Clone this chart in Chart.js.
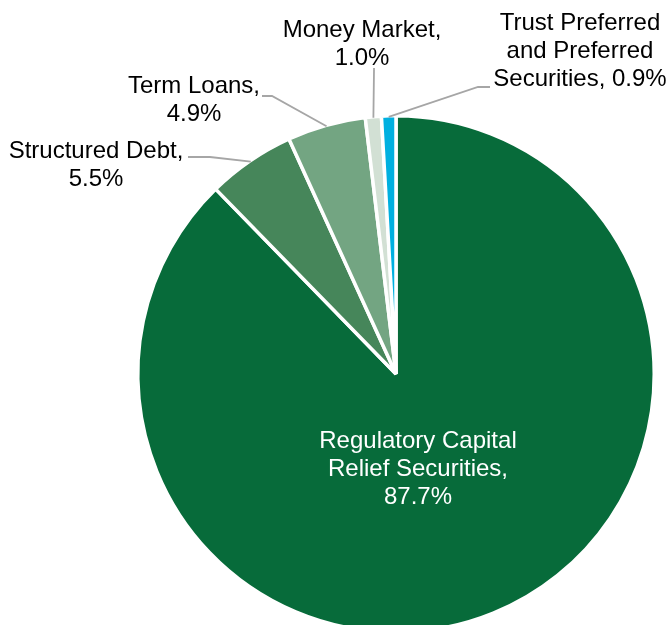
<!DOCTYPE html>
<html>
<head>
<meta charset="utf-8">
<script src="https://cdn.jsdelivr.net/npm/chart.js@4"></script>
<style>
  html, body { margin: 0; padding: 0; background: #fff; overflow: hidden; }
  #wrap { width: 669px; height: 625px; overflow: hidden; }
</style>
</head>
<body>
<div id="wrap"><canvas id="pie" width="669" height="640"></canvas></div>
<script>
// Portfolio mix (%), clockwise from 12 o'clock
const categories = [
  'Regulatory Capital Relief Securities',
  'Structured Debt',
  'Term Loans',
  'Money Market',
  'Trust Preferred and Preferred Securities'
];
const shares = [87.7, 5.5, 4.9, 1.0, 0.9];
const sliceColors = ['#076B3A', '#46865A', '#73A582', '#D2E0D4', '#00B0E0'];

// label text lines, by slice
const labelLines = [
  ['Regulatory Capital', 'Relief Securities,', '87.7%'],
  ['Structured Debt,', '5.5%'],
  ['Term Loans,', '4.9%'],
  ['Money Market,', '1.0%'],
  ['Trust Preferred', 'and Preferred', 'Securities, 0.9%']
];

// label placement: text centre x, first line y, and leader elbow (null = no leader)
const labelLayout = [
  { x: 418, y: 441, color: '#fff', leader: null },
  { x: 96,  y: 151, color: '#000', leader: [[188, 157], [210, 157]] },
  { x: 194, y: 86,  color: '#000', leader: [[262, 96], [272, 96]] },
  { x: 362, y: 30,  color: '#000', leader: [[374, 68], [374, 70]] },
  { x: 580, y: 23,  color: '#000', leader: [[490, 87], [478, 87]] }
];

const FONT = '24px "Liberation Sans", Arial, sans-serif';
const LINE_H = 28;

const calloutPlugin = {
  id: 'callouts',
  afterDatasetsDraw(chart) {
    const ctx = chart.ctx;
    const arcs = chart.getDatasetMeta(0).data;
    ctx.save();
    arcs.forEach((arc, i) => {
      const lay = labelLayout[i];
      if (lay.leader) {
        const { x, y, startAngle, endAngle, outerRadius } = arc.getProps(['x', 'y', 'startAngle', 'endAngle', 'outerRadius'], true);
        const mid = (startAngle + endAngle) / 2;
        const ax = x + Math.cos(mid) * (outerRadius - 1);
        const ay = y + Math.sin(mid) * (outerRadius - 1);
        ctx.beginPath();
        ctx.strokeStyle = '#A6A6A6';
        ctx.lineWidth = 1.8;
        ctx.moveTo(lay.leader[0][0], lay.leader[0][1]);
        ctx.lineTo(lay.leader[1][0], lay.leader[1][1]);
        ctx.lineTo(ax, ay);
        ctx.stroke();
      }
      ctx.font = FONT;
      ctx.fillStyle = lay.color;
      ctx.textAlign = 'center';
      ctx.textBaseline = 'middle';
      labelLines[i].forEach((t, j) => ctx.fillText(t, lay.x, lay.y + j * LINE_H));
    });
    ctx.restore();
  }
};

new Chart(document.getElementById('pie').getContext('2d'), {
  type: 'pie',
  data: {
    labels: categories,
    datasets: [{
      data: shares,
      backgroundColor: sliceColors,
      borderColor: '#ffffff',
      borderWidth: 3.5
    }]
  },
  options: {
    responsive: false,
    animation: false,
    layout: { padding: { left: 136, right: 13, top: 114, bottom: 6 } },
    plugins: {
      legend: { display: false },
      tooltip: { enabled: false }
    }
  },
  plugins: [calloutPlugin]
});
</script>
</body>
</html>
